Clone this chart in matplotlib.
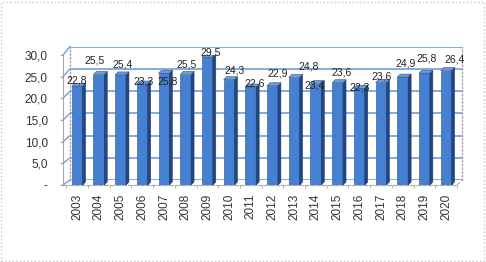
import matplotlib.pyplot as plt
from matplotlib.patches import Polygon, Rectangle
from matplotlib.lines import Line2D

# dados do grafico
years = ['2003', '2004', '2005', '2006', '2007', '2008', '2009', '2010', '2011',
         '2012', '2013', '2014', '2015', '2016', '2017', '2018', '2019', '2020']
values = [22.8, 25.5, 25.4, 23.3, 25.8, 25.5, 29.5, 24.3, 22.6,
          22.9, 24.8, 23.4, 23.6, 22.3, 23.6, 24.9, 25.8, 26.4]
y_ticks = [0, 5, 10, 15, 20, 25, 30]
y_tick_labels = ['-', '5,0', '10,0', '15,0', '20,0', '25,0', '30,0']

# deslocamento dos rotulos (pixels), como o excel espalha eles
label_shift = [(0, 6), (-4, 14), (2, 10), (1, 3), (4, -8), (1, 10), (3, 5), (5, 9), (4, 4),
               (5, 12), (14, 11), (-1, -2), (4, 10), (0, 1), (1, 6), (3, 14), (2, 15), (8, 11)]

W, H = 486, 262
plt.rcParams['font.family'] = 'Liberation Sans'
fig = plt.figure(figsize=(W / 100, H / 100), dpi=100)

grid_c = '#7aa7de'
edge_c = '#a8a8a8'
bar_c = '#4680d2'
side_c = '#22467f'
top_c = '#6d9ae0'

# parede do fundo
ax_back = fig.add_axes([70 / W, (H - 180) / H, 392 / W, 133.3 / H])
ax_back.set_ylim(0, 30)
ax_back.set_xlim(0, 1)
ax_back.set_yticks(y_ticks)
ax_back.yaxis.grid(True, color=grid_c, lw=1.3)
ax_back.tick_params(left=False, bottom=False, labelleft=False, labelbottom=False)
for s in ['top', 'bottom']:
    ax_back.spines[s].set_visible(False)
for s in ['left', 'right']:
    ax_back.spines[s].set_color(edge_c)
    ax_back.spines[s].set_linestyle(':')
    ax_back.spines[s].set_linewidth(1)

# plano da frente com as barras
ax = fig.add_axes([63 / W, (H - 185) / H, 394 / W, 130 / H])
ax.set_facecolor('none')
ax.set_xlim(-0.65, 17.35)
ax.set_ylim(0, 30)
x = list(range(len(years)))
w = 0.5
ax.bar(x, values, width=w, color=bar_c, edgecolor='#2a4f85', lw=0.4, zorder=3)

dx = 3 / (394 / 18)
dy = 3 / (130 / 30)
for i, v in enumerate(values):
    side = Polygon([(i + w / 2, 0), (i + w / 2 + dx, dy), (i + w / 2 + dx, v + dy), (i + w / 2, v)],
                   closed=True, facecolor=side_c, edgecolor='#1f3c66', lw=0.4, zorder=3)
    top = Polygon([(i - w / 2, v), (i - w / 2 + dx, v + dy), (i + w / 2 + dx, v + dy), (i + w / 2, v)],
                  closed=True, facecolor=top_c, edgecolor='#2a4f85', lw=0.4, zorder=3)
    ax.add_patch(side)
    ax.add_patch(top)
    ax.annotate(f'{v:.1f}'.replace('.', ','), (i, v), xytext=label_shift[i],
                textcoords='offset pixels', ha='center', va='center',
                fontsize=7.5, color='#222222', zorder=5)

ax.set_yticks(y_ticks)
ax.set_yticklabels(y_tick_labels, fontsize=8.5, color='#333333')
ax.set_xticks(x)
ax.set_xticklabels(years, rotation=90, fontsize=8.5, color='#333333')
ax.set_xticks([i + 0.5 for i in range(-1, len(years))], minor=True)
ax.tick_params(axis='x', which='major', length=0, pad=6)
ax.tick_params(axis='x', which='minor', length=2, color=edge_c)
ax.tick_params(axis='y', length=2, color=edge_c, pad=9)
for s in ['top', 'right']:
    ax.spines[s].set_visible(False)
ax.spines['left'].set_color(edge_c)
ax.spines['left'].set_linewidth(0.8)
ax.spines['bottom'].set_color(edge_c)
ax.spines['bottom'].set_linestyle('--')
ax.spines['bottom'].set_linewidth(0.8)

# diagonais do lado esquerdo (ligando frente e fundo)
inv = fig.transFigure.inverted()
for t in y_ticks:
    p0 = inv.transform(ax.transData.transform((ax.get_xlim()[0], t)))
    p1 = inv.transform(ax_back.transData.transform((0, t)))
    fig.add_artist(Line2D([p0[0], p1[0]], [p0[1], p1[1]], color=grid_c, lw=1.1))
# canto direito do piso
p0 = inv.transform(ax.transData.transform((ax.get_xlim()[1], 0)))
p1 = inv.transform(ax_back.transData.transform((1, 0)))
fig.add_artist(Line2D([p0[0], p1[0]], [p0[1], p1[1]], color=edge_c, lw=0.8, ls='--'))

# borda do grafico
fig.add_artist(Rectangle((0.002, 0.004), 0.994, 0.99, transform=fig.transFigure,
                         fill=False, edgecolor='#c8c8c8', lw=1, ls=':'))

fig.savefig('out.png', dpi=100)
